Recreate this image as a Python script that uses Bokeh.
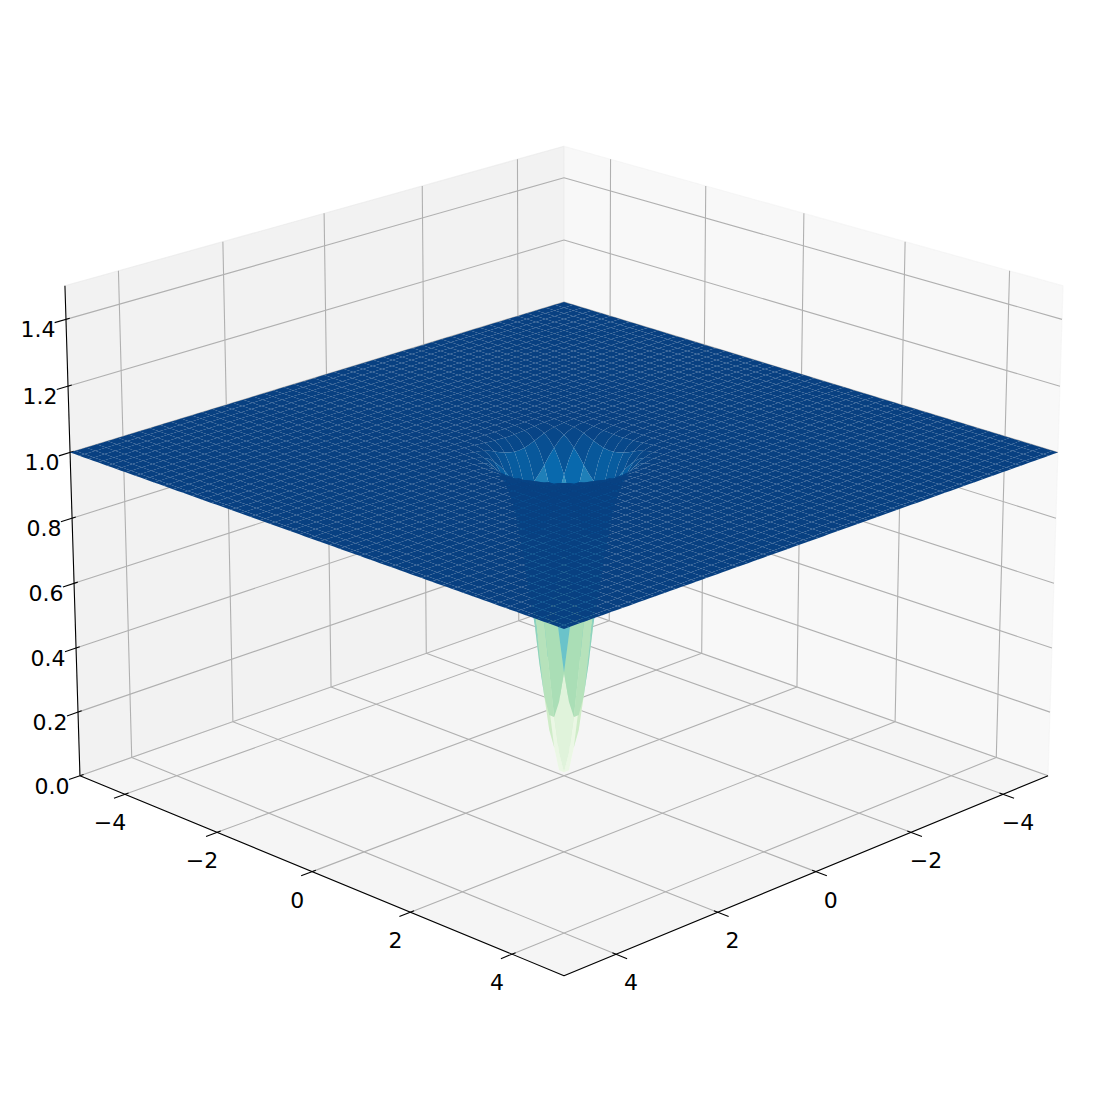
import numpy as np
from bokeh.plotting import figure
from bokeh.models import ColumnDataSource, Range1d
from bokeh.core.properties import value
from bokeh.embed import file_html
from bokeh.resources import INLINE

# ---- data ----
x_ticks = [-4, -2, 0, 2, 4]
y_ticks = [-4, -2, 0, 2, 4]
z_ticks = [0.0, 0.2, 0.4, 0.6, 0.8, 1.0, 1.2, 1.4]
xy_tick_labels = ["\u22124", "\u22122", "0", "2", "4"]
z_tick_labels = ["0.0", "0.2", "0.4", "0.6", "0.8", "1.0", "1.2", "1.4"]
axis_limit = 5.0
z_top = 1.5
samples_per_side = 100
cell_stride = 2
plateau_height = 1.0
# surface height at sample steps (a, b) from the middle of the dip, a <= b; each row starts at b = a
dip_heights = [
    [0.017, 0.083, 0.202, 0.352, 0.509, 0.653, 0.771, 0.859, 0.919, 0.957, 0.978, 0.990, 0.9956, 0.9982, 0.9993, 0.9998],
    [0.144, 0.255, 0.395, 0.542, 0.676, 0.786, 0.868, 0.924, 0.960, 0.980, 0.991, 0.996, 0.998, 0.9994, 0.9998],
    [0.352, 0.474, 0.601, 0.718, 0.814, 0.886, 0.934, 0.965, 0.982, 0.992, 0.996, 0.9985, 0.9995, 0.9998],
    [0.572, 0.676, 0.771, 0.849, 0.907, 0.947, 0.971, 0.986, 0.993, 0.997, 0.9988, 0.9996, 0.9998],
    [0.755, 0.826, 0.886, 0.930, 0.960, 0.978, 0.989, 0.995, 0.998, 0.9991, 0.9997, 0.9999],
    [0.877, 0.919, 0.950, 0.971, 0.985, 0.992, 0.996, 0.9984, 0.9994, 0.9998, 0.9999],
    [0.947, 0.967, 0.981, 0.990, 0.995, 0.998, 0.999, 0.9996, 0.9998, 0.9999],
    [0.980, 0.988, 0.994, 0.997, 0.9986, 0.9994, 0.9997, 0.9999, 1.000],
    [0.993, 0.996, 0.998, 0.9992, 0.9996, 0.9999, 1.000, 1.000],
    [0.998, 0.999, 0.9996, 0.9998, 0.9999, 1.000, 1.000],
    [0.9995, 0.9998, 0.9999, 1.000, 1.000, 1.000],
    [0.9999, 1.000, 1.000, 1.000, 1.000],
    [1.000, 1.000, 1.000, 1.000],
    [1.000, 1.000, 1.000],
    [1.000, 1.000],
    [1.000],
]
gnbu_stops = ["#f7fcf0", "#e0f3db", "#ccebc5", "#a8ddb5", "#7bccc4",
              "#4eb3d3", "#2b8cbe", "#0868ac", "#084081"]

# ---- camera ----
ELEV, AZIM, DIST = np.radians(20.0), np.radians(45.0), 10.0
aspect = np.array([4.0, 4.0, 3.0])
box = aspect * 1.8294640721620434 * 25 / 24 / np.linalg.norm(aspect)
centre = box / 2
w_vec = np.array([np.cos(ELEV) * np.cos(AZIM), np.cos(ELEV) * np.sin(AZIM), np.sin(ELEV)])
u_vec = np.cross([0.0, 0.0, 1.0], w_vec)
u_vec /= np.linalg.norm(u_vec)
v_vec = np.cross(w_vec, u_vec)
SCALE, CX, CY = 5838.0, 563.5, 534.0


def project(x, y, z):
    x, y, z = np.asarray(x, float), np.asarray(y, float), np.asarray(z, float)
    px = (x + axis_limit) / (2 * axis_limit) * box[0] - centre[0]
    py = (y + axis_limit) / (2 * axis_limit) * box[1] - centre[1]
    pz = z / z_top * box[2] - centre[2]
    vu = px * u_vec[0] + py * u_vec[1] + pz * u_vec[2]
    vv = px * v_vec[0] + py * v_vec[1] + pz * v_vec[2]
    depth = DIST - (px * w_vec[0] + py * w_vec[1] + pz * w_vec[2])
    return vu / depth, vv / depth, depth


p = figure(width=1081, height=1082, output_backend="svg", toolbar_location=None,
           x_axis_type=None, y_axis_type=None, min_border=0,
           x_range=Range1d((0 - CX) / SCALE, (1081 - CX) / SCALE),
           y_range=Range1d((CY - 1082) / SCALE, (CY - 0) / SCALE),
           outline_line_color=None, background_fill_color="white")
p.grid.visible = False

L = axis_limit


def pane(xs, ys, zs, color):
    a, b, _ = project(xs, ys, zs)
    p.patch(a, b, fill_color=color, fill_alpha=0.5, line_color=color, line_alpha=0.5, line_width=1.1)


pane([L, -L, -L, L], [-L, -L, -L, -L], [0, 0, z_top, z_top], "#e6e6e6")
pane([-L, -L, -L, -L], [-L, L, L, -L], [0, 0, z_top, z_top], "#f2f2f2")
pane([L, -L, -L, L], [-L, -L, L, L], [0, 0, 0, 0], "#ececec")


def segments(items, color, width):
    xs, ys = [], []
    for seg in items:
        a, b, _ = project(*np.array(seg, float).T)
        xs.append(a.tolist())
        ys.append(b.tolist())
    p.multi_line(xs, ys, line_color=color, line_width=width, line_cap="butt")


grid = []
for t in x_ticks:
    grid.append([(t, L, 0), (t, -L, 0), (t, -L, z_top)])
for t in y_ticks:
    grid.append([(L, t, 0), (-L, t, 0), (-L, t, z_top)])
for t in z_ticks:
    grid.append([(L, -L, t), (-L, -L, t), (-L, L, t)])
segments(grid, "#b0b0b0", 1.1)

axes = [[(L, -L, 0), (L, L, 0), (-L, L, 0)], [(L, -L, 0), (L, -L, z_top)]]
OUT, IN = 0.21, 0.07
for t in y_ticks:
    axes.append([(L - IN, t, 0), (L + OUT, t, 0)])
for t in x_ticks:
    axes.append([(t, L - IN, 0), (t, L + OUT, 0)])
for t in z_ticks:
    axes.append([(L - IN, -L, t), (L + OUT, -L, t)])
segments(axes, "black", 1.1)

# ---- surface ----
N = samples_per_side
grid_axis = np.linspace(-L, L, N)
GX, GY = np.meshgrid(grid_axis, grid_axis, indexing="ij")
GZ = np.full(GX.shape, plateau_height)
hi = N // 2
lo = hi - 1
reach = len(dip_heights)
for ia in range(N):
    for ib in range(N):
        a = ia - hi if ia >= hi else lo - ia
        b = ib - hi if ib >= hi else lo - ib
        if a < reach and b < reach:
            GZ[ia, ib] = dip_heights[min(a, b)][abs(a - b)]
PA, PB, PD = project(GX, GY, GZ)
s = cell_stride
polys = []
for i in range(0, N - 1, s):
    i2 = min(i + s, N - 1)
    for j in range(0, N - 1, s):
        j2 = min(j + s, N - 1)
        # the outline of a cell passes through every sample on its border
        ii = list(range(i, i2)) + [i2] * (j2 - j) + list(range(i2, i, -1)) + [i] * (j2 - j)
        jj = [j] * (i2 - i) + list(range(j, j2)) + [j2] * (i2 - i) + list(range(j2, j, -1))
        idx = (ii, jj)
        polys.append((PD[idx].mean(), PA[idx].tolist(), PB[idx].tolist(), GZ[idx].mean()))
polys.sort(key=lambda q: -q[0])
means = np.array([q[3] for q in polys])
norm = (means - means.min()) / (means.max() - means.min())
rgb = np.array([[int(c[k:k + 2], 16) for k in (1, 3, 5)] for c in gnbu_stops], float)
pos = np.linspace(0, 1, len(gnbu_stops))
colors = ["#%02x%02x%02x" % tuple(int(round(np.interp(v, pos, rgb[:, k]))) for k in range(3)) for v in norm]
p.patches(xs=[q[1] for q in polys], ys=[q[2] for q in polys], fill_color=colors, line_color=None)


# ---- tick labels ----
def labels(xs, ys, zs, texts, dx, dy):
    a, b, _ = project(xs, ys, zs)
    src = ColumnDataSource(dict(x=a, y=b, t=texts))
    p.text("x", "y", text="t", source=src, x_offset=dx, y_offset=dy, text_align="center",
           text_baseline="middle", text_font=value("DejaVu Sans"), text_font_size="22px", text_color="black")


k = len(y_ticks)
labels([L] * k, y_ticks, [0] * k, xy_tick_labels, -15, 28)
labels(x_ticks, [L] * k, [0] * k, xy_tick_labels, 15, 28)
m = len(z_ticks)
labels([L] * m, [-L] * m, z_ticks, z_tick_labels, -28, 10)

open("out.html", "w").write(file_html(p, INLINE))
